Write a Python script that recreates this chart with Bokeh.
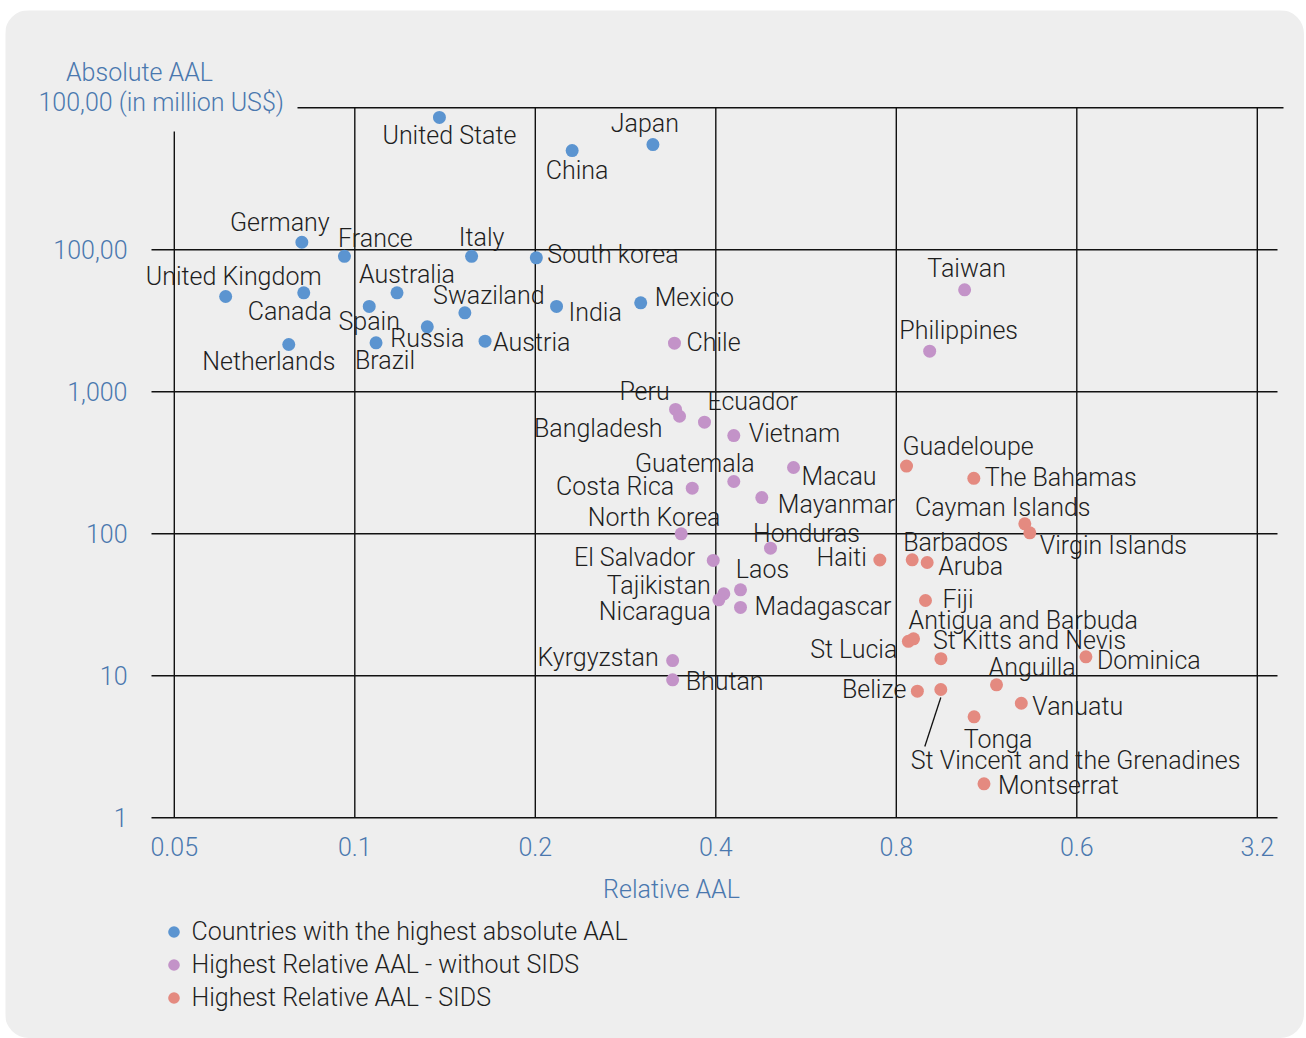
from bokeh.plotting import figure
from bokeh.models import (FixedTicker, CustomJSTickFormatter, Label, Legend,
                          LegendItem, ColumnDataSource)
from bokeh.core.properties import value
from bokeh.embed import file_html
from bokeh.resources import INLINE

# ---------------- data ----------------
blue_names = ["United State", "Japan", "China", "Germany", "France", "Italy",
              "South korea", "United Kingdom", "Canada", "Australia", "Spain",
              "Swaziland", "Russia", "India", "Mexico", "Netherlands", "Brazil",
              "Austria"]
blue_rel = [0.1384, 0.3142, 0.2304, 0.0816, 0.0961, 0.1566, 0.2008, 0.0609,
            0.0822, 0.1176, 0.1057, 0.1526, 0.1321, 0.2170, 0.2998, 0.0776,
            0.1085, 0.1649]
blue_abs = [85500, 55100, 50000, 11300, 9000, 9000, 8780, 4690, 4980, 4980,
            3990, 3600, 2870, 3990, 4235, 2154, 2213, 2272]

purple_names = ["Chile", "Taiwan", "Philippines", "Peru", "Bangladesh", "Ecuador",
                "Vietnam", "Guatemala", "Costa Rica", "Macau", "Mayanmar",
                "North Korea", "Honduras", "El Salvador", "Laos", "Tajikistan",
                "Nicaragua", "Madagascar", "Kyrgyzstan", "Bhutan"]
purple_rel = [0.3413, 1.040, 0.9094, 0.3427, 0.3480, 0.3830, 0.4286, 0.4286,
              0.3654, 0.5391, 0.4773, 0.3502, 0.4935, 0.3961, 0.4398, 0.4125,
              0.4047, 0.4398, 0.3389, 0.3389]
purple_abs = [2199, 5228, 1932, 751, 673, 611, 492, 233.5, 209.5, 293, 180,
              100, 79.2, 64.9, 40.3, 37.8, 34.3, 30.3, 12.8, 9.37]

salmon_names = ["Guadeloupe", "The Bahamas", "Cayman Islands", "Virgin Islands",
                "Haiti", "Barbados", "Aruba", "Fiji", "St Lucia",
                "Antigua and Barbuda", "St Kitts and Nevis", "Dominica",
                "Anguilla", "Belize", "St Vincent and the Grenadines", "Vanuatu",
                "Tonga", "Montserrat"]
salmon_rel = [0.8320, 1.0774, 1.3104, 1.3357, 0.7510, 0.8504, 0.9007, 0.8949,
              0.8380, 0.8547, 0.9495, 1.657, 1.1755, 0.8674, 0.9491, 1.2929,
              1.0785, 1.1203]
salmon_abs = [300, 246, 117.6, 101.6, 65.4, 65.6, 62.8, 33.9, 17.5, 18.2, 13.2,
              13.6, 8.64, 7.79, 8.01, 6.41, 5.14, 1.735]

series_labels = ["Countries with the highest absolute AAL",
                 "Highest Relative AAL - without SIDS",
                 "Highest Relative AAL - SIDS"]

x_tick_values = [0.05, 0.1, 0.2, 0.4, 0.8, 1.6, 3.2]
x_tick_labels = ["0.05", "0.1", "0.2", "0.4", "0.8", "0.6", "3.2"]
y_tick_values = [1, 10, 100, 1000, 10000, 100000]
y_tick_labels = ["1", "10", "100", "1,000", "100,00", ""]

x_title = "Relative AAL"
y_title_1 = "Absolute AAL"
y_title_2 = "100,00 (in million US$)"

# ---------------- label placement (style) ----------------
label_pos = {
    "United State": ("center", 10, 18), "Japan": ("center", -8, -21),
    "China": ("center", 5, 20), "Germany": ("center", -22, -20),
    "France": ("center", 31, -18), "Italy": ("center", 10, -19),
    "South korea": ("left", 11, -3), "United Kingdom": ("center", 8, -20),
    "Canada": ("center", -14, 19), "Australia": ("center", 10, -18),
    "Spain": ("center", 0, 15), "Swaziland": ("center", 24, -17),
    "Russia": ("center", 0, 12), "India": ("left", 12, 6),
    "Mexico": ("left", 14, -5), "Netherlands": ("center", -20, 17),
    "Brazil": ("center", 9, 18), "Austria": ("left", 8, 1),
    "Chile": ("left", 12, -1), "Taiwan": ("center", 2, -21),
    "Philippines": ("center", 29, -21), "Peru": ("center", -31, -18),
    "Bangladesh": ("right", -17, 12), "Ecuador": ("left", 3, -21),
    "Vietnam": ("left", 15, -2), "Guatemala": ("center", -39, -18),
    "Costa Rica": ("right", -18, -2), "Macau": ("left", 8, 9),
    "Mayanmar": ("left", 16, 7), "North Korea": ("center", -27, -16),
    "Honduras": ("center", 36, -15), "El Salvador": ("right", -18, -3),
    "Laos": ("center", 22, -20), "Tajikistan": ("right", -13, -8),
    "Nicaragua": ("right", -8, 12), "Madagascar": ("left", 14, -1),
    "Kyrgyzstan": ("right", -14, -3), "Bhutan": ("left", 13, 2),
    "Guadeloupe": ("left", -4, -20), "The Bahamas": ("left", 11, -1),
    "Cayman Islands": ("center", -22, -16), "Virgin Islands": ("left", 10, 13),
    "Haiti": ("right", -13, -2), "Barbados": ("left", -9, -17),
    "Aruba": ("left", 11, 4), "Fiji": ("left", 17, -1),
    "St Lucia": ("right", -11, 8), "Antigua and Barbuda": ("left", -5, -18),
    "St Kitts and Nevis": ("left", -8, -18), "Dominica": ("left", 11, 4),
    "Anguilla": ("left", -8, -17), "Belize": ("right", -11, -2),
    "St Vincent and the Grenadines": ("left", -30, 71),
    "Vanuatu": ("left", 11, 3), "Tonga": ("center", 24, 23),
    "Montserrat": ("left", 14, 2),
}

FONT = "Roboto Light"
BLUE_T = "#4A78AE"
TXT = "#1E1E1E"
BG = "#EEEEEE"
LINE = "#111111"
COLORS = ["#5B94D0", "#C393C8", "#E48A80"]

# page geometry (pixels) -> data mapping used for layout only
PX_OCT = 180.5    # px per doubling on x
PX_DEC = 142.0    # px per decade on y
X0_PX = 173.8     # page x of first x tick
Y0_PX = 817.3     # page y of value 1
PAGE_L, PAGE_T = 5, 10
W, H = 1299, 1028


def px2x(px):
    return x_tick_values[0] * 2 ** ((px - X0_PX) / PX_OCT)


def py2y(py):
    return y_tick_values[0] * 10 ** ((Y0_PX - py) / PX_DEC)


def sx(px):  # page x -> screen x within frame
    return px - PAGE_L


def sy(py):  # page y -> screen y (from bottom) within frame
    return PAGE_T + H - py


p = figure(width=W, height=H, x_axis_type="log", y_axis_type="log",
           x_range=(px2x(PAGE_L), px2x(PAGE_L + W)),
           y_range=(py2y(PAGE_T + H), py2y(PAGE_T)),
           output_backend="svg", toolbar_location=None,
           min_border=0, min_border_left=0, min_border_right=0,
           min_border_top=0, min_border_bottom=0,
           background_fill_color=BG, border_fill_color=BG,
           margin=(PAGE_T, 0, 0, PAGE_L))
p.styles = {"border-radius": "24px", "overflow": "hidden"}
p.outline_line_color = None
p.xgrid.visible = False
p.ygrid.visible = False

# axes drawn inside the frame at the grid edges
p.xaxis.fixed_location = y_tick_values[0]
p.yaxis.fixed_location = px2x(152)
for ax in (p.xaxis[0], p.yaxis[0]):
    ax.axis_line_color = None
    ax.major_tick_line_color = None
    ax.minor_tick_line_color = None
    ax.major_label_text_font = FONT
    ax.major_label_text_font_size = "25px"
    ax.major_label_text_color = BLUE_T

fmt_code = ("let b=0,d=1e9;for(let i=0;i<vals.length;i++){"
            "const e=Math.abs(Math.log(vals[i])-Math.log(tick));"
            "if(e<d){d=e;b=i}}return labs[b];")
p.xaxis.ticker = FixedTicker(ticks=x_tick_values)
p.xaxis.formatter = CustomJSTickFormatter(
    args=dict(vals=x_tick_values, labs=x_tick_labels), code=fmt_code)
p.yaxis.ticker = FixedTicker(ticks=y_tick_values)
p.yaxis.formatter = CustomJSTickFormatter(
    args=dict(vals=y_tick_values, labs=y_tick_labels), code=fmt_code)
p.xaxis.major_label_standoff = 13
p.yaxis.major_label_standoff = 19

# grid lines
vx0, vy0, vx1, vy1 = [], [], [], []
for i, t in enumerate(x_tick_values):
    vx0.append(t); vx1.append(t)
    vy0.append(y_tick_values[0])
    vy1.append(py2y(131) if i == 0 else y_tick_values[-1])
for i, t in enumerate(y_tick_values):
    top = (i == len(y_tick_values) - 1)
    vx0.append(px2x(297) if top else px2x(151))
    vx1.append(px2x(1283) if top else px2x(1277))
    vy0.append(t); vy1.append(t)
p.segment(x0=vx0, y0=vy0, x1=vx1, y1=vy1, line_color=LINE, line_width=1.4)

renderers = []
all_names, all_x, all_y = [], [], []
for names, xs, ys, col in ((blue_names, blue_rel, blue_abs, COLORS[0]),
                           (purple_names, purple_rel, purple_abs, COLORS[1]),
                           (salmon_names, salmon_rel, salmon_abs, COLORS[2])):
    src = ColumnDataSource(dict(x=xs, y=ys, name=names))
    r = p.scatter("x", "y", source=src, size=13, fill_color=col, line_color=None)
    renderers.append(r)
    all_names += names
    all_x += xs
    all_y += ys

# leader line for St Vincent
iv = salmon_names.index("St Vincent and the Grenadines")
lx, ly = salmon_rel[iv], salmon_abs[iv]
p.segment(x0=[lx], y0=[ly * 10 ** (-8 / PX_DEC)],
          x1=[lx * 2 ** (-16 / PX_OCT)], y1=[ly * 10 ** (-57 / PX_DEC)],
          line_color=LINE, line_width=1.3)

lab_src = ColumnDataSource(dict(
    x=all_x, y=all_y, text=all_names,
    align=[label_pos[n][0] for n in all_names],
    dx=[label_pos[n][1] for n in all_names],
    dy=[label_pos[n][2] for n in all_names]))
p.text("x", "y", text="text", source=lab_src, x_offset="dx", y_offset="dy",
       text_align="align", text_baseline="middle", text_font=value(FONT),
       text_font_size="25px", text_color=TXT)

# titles
p.add_layout(Label(x=sx(38), y=sy(102), x_units="screen", y_units="screen",
                   text=y_title_2, text_align="left", text_baseline="middle",
                   text_font=FONT, text_font_size="25px", text_color=BLUE_T))
p.add_layout(Label(x=sx(139), y=sy(72), x_units="screen", y_units="screen",
                   text=y_title_1, text_align="center", text_baseline="middle",
                   text_font=FONT, text_font_size="25px", text_color=BLUE_T))
p.add_layout(Label(x=sx(671), y=sy(889), x_units="screen", y_units="screen",
                   text=x_title, text_align="center", text_baseline="middle",
                   text_font=FONT, text_font_size="25px", text_color=BLUE_T))

legend = Legend(items=[LegendItem(label=series_labels[i], renderers=[renderers[i]])
                       for i in range(3)],
                location=(sx(173 - 14.5), sy(997 + 14.5)),
                orientation="vertical", glyph_width=29, glyph_height=29,
                label_standoff=4, spacing=4, padding=0, margin=0,
                border_line_color=None, background_fill_alpha=0,
                label_text_font=FONT, label_text_font_size="25px",
                label_text_color=TXT, label_height=29)
p.add_layout(legend)

open("out.html", "w").write(file_html(p, INLINE))
